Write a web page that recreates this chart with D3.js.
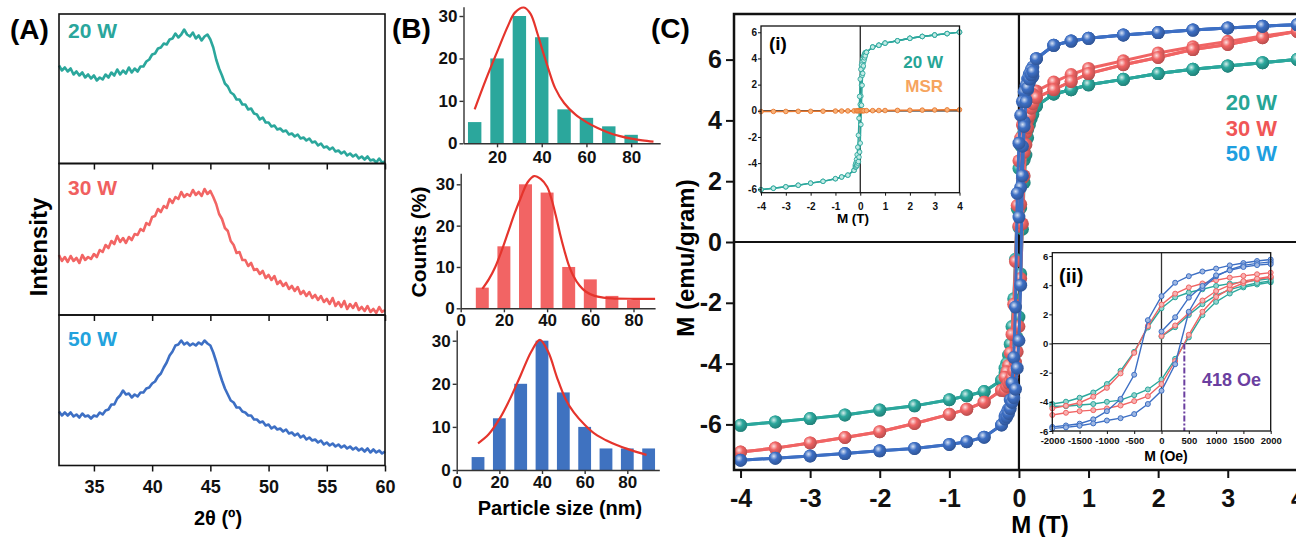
<!DOCTYPE html>
<html>
<head>
<meta charset="utf-8">
<script src="https://cdn.jsdelivr.net/npm/d3@7"></script>
<style>
  body { margin: 0; background: #fff; }
  text { font-family: "Liberation Sans", Arial, sans-serif; font-weight: bold; }
</style>
</head>
<body>
<div id="chart"></div>
<script>
// ---------- (A) XRD, scan from 32 deg in 0.25 deg steps ----------
const scanStart = 32, scanStep = 0.25;
const xrd20 = [98,93,96,92,95,89,92,88,91,86,89,85,88,83,86,84,89,86,91,88,
  94,89,93,90,96,91,95,92,97,97,102,104,109,110,115,116,120,119,124,125,
  130,126,129,134,129,127,131,125,128,123,127,129,124,116,104,95,88,80,77,71,
  69,64,64,59,59,54,55,50,49,44,46,41,41,37,38,34,35,32,33,29,
  30,27,29,25,26,23,25,21,22,18,20,16,17,14,16,12,13,10,12,8,
  10,7,9,5,7,4,7,3,4,1,5,1,2];
const xrd30 = [60,54,58,53,59,54,57,52,60,55,58,56,61,58,65,63,70,67,74,71,
  79,73,77,72,78,75,81,80,86,84,92,90,98,99,106,103,109,107,116,112,
  118,116,123,118,121,119,125,120,123,119,126,121,124,118,111,101,96,87,84,74,
  70,62,63,55,55,49,52,45,46,41,44,37,40,35,39,31,34,29,32,26,
  29,24,28,21,24,19,23,17,20,15,19,13,16,11,17,9,13,8,14,6,
  11,7,12,5,8,4,9,3,6,2,8,3,5];
const xrd50 = [54,50,53,50,53,49,51,48,52,49,50,47,50,49,53,51,55,56,61,61,
  67,70,75,71,72,68,71,69,73,73,77,78,82,84,89,92,98,103,110,114,
  120,121,125,121,123,120,122,120,123,121,125,122,120,113,104,94,85,77,71,65,
  63,58,58,54,53,50,50,46,46,43,44,40,41,37,39,36,37,34,36,32,
  33,30,32,28,30,26,28,25,26,23,25,21,23,20,22,19,21,18,20,17,
  19,16,18,15,17,14,17,13,16,13,15,12,14];
const xrdTicks = [35,40,45,50,55,60];

// ---------- (B) size histograms ----------
const sizeBins = [10,20,30,40,50,60,70,80];
const sizeBins50 = [10,20,30,40,50,60,70,80,90];
const counts20 = [5,20,30,25,8,6,4,2];
const counts30 = [5,15,30,28,10,7,3,2];
const counts50 = [3,12,20,30,18,10,5,5,5];
const fit20Size = [10,15,20,25,28,32,35,38,40,43,46,50,55,60,65,70,75,80,85,90];
const fit20Count = [8,15,21.5,27.8,30.8,32,30.5,26,22.5,17.5,13,9.5,6.8,5,3.6,2.5,1.7,1.1,0.7,0.4];
const fit30Size = [10,13,16,19,22,25,28,31,34,37,40,42,44,46,48,50,52,55,58,62,66,70,80,90];
const fit30Count = [4.7,7,10,14,18.5,23,27,30.5,32,31.3,29.4,26.5,22.5,18,14,10.5,8,5.5,4,3,2.6,2.4,2.3,2.3];
const fit50Size = [10,15,20,25,30,35,39,43,47,51,55,60,65,70,75,80,85,89];
const fit50Count = [6.2,8.3,11.8,16.5,22,27.5,30.2,27.3,21.5,16.5,13.3,10.5,8.3,6.9,5.8,4.9,4.1,3.5];

// ---------- (C) M-H loops ----------
const fieldNeg = [-4,-3.5,-3,-2.5,-2,-1.5,-1,-0.75,-0.5,-0.25];
const fieldPos = [0.25,0.5,0.75,1,1.5,2,2.5,3,3.5,4];
const m20Neg = [-6.03,-5.92,-5.81,-5.69,-5.53,-5.39,-5.19,-5.06,-4.92,-4.55];
const m20Pos = [4.47,4.87,5.01,5.17,5.35,5.54,5.68,5.79,5.9,6.01];
const m30Neg = [-6.91,-6.78,-6.61,-6.43,-6.24,-5.97,-5.67,-5.5,-5.27,-4.88];
const m30PosDesc = [4.97,5.26,5.51,5.71,5.96,6.22,6.42,6.6,6.78,6.93];
const m30PosAsc = [4.75,5.01,5.28,5.54,5.83,6.07,6.33,6.5,6.72,6.93];
const m50Neg = [-7.18,-7.11,-7.04,-6.96,-6.87,-6.79,-6.66,-6.57,-6.42,-6.02];
const m50Pos = [6.03,6.47,6.61,6.7,6.81,6.89,6.97,7.04,7.1,7.15];

// low-field part in Oe (inset ii)
const fieldOe = [-2000,-1750,-1500,-1250,-1000,-750,-500,-250,0,250,500,750,1000,1250,1500,1750,2000];
const fieldOeVirgin = [0,250,500,750,1000,1250,1500,1750,2000];
const loop20Desc = [-4.15,-3.99,-3.72,-3.36,-2.78,-1.87,-0.57,1.1,2.42,3.17,3.5,3.72,3.95,4.11,4.23,4.34,4.45];
const loop20Asc = [-4.3,-4.3,-4.22,-4.15,-4.0,-3.88,-3.54,-3.15,-2.47,-1.05,0.42,1.95,2.86,3.43,3.85,4.05,4.2];
const loop20Virgin = [0.48,1.12,1.96,2.7,3.3,3.7,3.95,4.15,4.3];
const loop30Desc = [-4.45,-4.27,-4.06,-3.65,-3.04,-2.05,-0.64,1.2,2.67,3.42,3.85,4.12,4.34,4.52,4.64,4.75,4.86];
const loop30Asc = [-4.9,-4.75,-4.64,-4.57,-4.45,-4.25,-3.95,-3.61,-2.78,-1.2,0.6,2.18,3.2,3.75,4.15,4.4,4.55];
const loop30Virgin = [0.52,1.24,2.1,2.95,3.6,4.0,4.28,4.45,4.6];
const loop50Desc = [-5.72,-5.62,-5.5,-5.2,-4.64,-3.8,-2.14,1.6,3.25,4.17,4.62,4.94,5.14,5.36,5.52,5.66,5.76];
const loop50Asc = [-5.82,-5.75,-5.64,-5.48,-5.28,-5.12,-4.84,-4.15,-3.24,-1.42,2.18,3.8,4.61,5.07,5.36,5.5,5.6];
const loop50Virgin = [0.82,1.8,3.15,3.95,4.68,5.02,5.25,5.38,5.45];
const coercivityOe = 418;

// MSR reference (inset i)
const fieldMsr = [-4,-3.5,-3,-2.5,-2,-1.5,-1,-0.75,-0.5,-0.25,-0.15,-0.1,-0.05,0,0.05,0.1,0.15,0.25,0.5,0.75,1,1.5,2,2.5,3,3.5,4];
const mMsr = [-0.06,-0.05,-0.05,-0.04,-0.04,-0.03,-0.02,-0.02,-0.01,-0.01,0,0,0,0,0,0,0,0.01,0.01,0.02,0.02,0.03,0.04,0.05,0.06,0.07,0.08];

const teal = "#2ba79c", red = "#f06464", blue = "#3d6fc4";
const plain = d => `${d}`; // hyphen minus like the original

const svg = d3.select("#chart").append("svg")
  .attr("width", 1296).attr("height", 537)
  .style("background", "#fff");

const panelLabel = (x, y, t) => svg.append("text").attr("x", x).attr("y", y)
  .attr("font-size", 28).text(t);
panelLabel(10, 39, "(A)");
panelLabel(392, 38, "(B)");
panelLabel(651, 38, "(C)");

// ---------- panel A ----------
const xA = d3.scaleLinear().domain([32, 60]).range([59, 385]);
const rowsA = [[14, 163.5], [163.5, 315], [315, 465.5]];
const xrdSeries = [
  { label: "20 W", values: xrd20, color: teal, labelColor: "#2aa69c", labelY: 38 },
  { label: "30 W", values: xrd30, color: "#f26564", labelColor: "#f0605f", labelY: 195 },
  { label: "50 W", values: xrd50, color: blue, labelColor: "#22a2dd", labelY: 346 }
];

xrdSeries.forEach((s, i) => {
  const [top, bot] = rowsA[i];
  const y = d3.scaleLinear().domain([0, 150]).range([bot, bot - 150]);
  const g = svg.append("g");

  g.append("path")
    .datum(s.values)
    .attr("fill", "none")
    .attr("stroke", s.color)
    .attr("stroke-width", 2.6)
    .attr("stroke-linejoin", "round")
    .attr("d", d3.line().x((d, j) => xA(scanStart + j * scanStep)).y(d => y(d)));

  g.append("rect")
    .attr("x", 59).attr("y", top).attr("width", 326).attr("height", bot - top)
    .attr("fill", "none").attr("stroke", "#111").attr("stroke-width", 1.6);

  const ax = g.append("g")
    .attr("transform", `translate(0,${bot})`)
    .call(d3.axisBottom(xA).tickValues(xrdTicks).tickSize(6).tickSizeOuter(0).tickPadding(9)
      .tickFormat(i === 2 ? plain : () => ""));
  ax.select(".domain").remove();
  ax.selectAll("line").attr("stroke", "#111").attr("stroke-width", 1.5);
  ax.selectAll("text").attr("font-size", 18).attr("fill", "#111")
    .style("font-family", "Liberation Sans, Arial, sans-serif").style("font-weight", "bold");

  g.append("text").attr("x", 68).attr("y", s.labelY)
    .attr("font-size", 21).attr("fill", s.labelColor).text(s.label);
});

svg.append("text").attr("x", 218).attr("y", 525).attr("text-anchor", "middle")
  .attr("font-size", 20).text("2θ (º)");
svg.append("text").attr("transform", "translate(47,247) rotate(-90)")
  .attr("text-anchor", "middle").attr("font-size", 24).text("Intensity");

// ---------- panel B ----------
const histPanels = [
  { bins: sizeBins, counts: counts20, fitX: fit20Size, fitY: fit20Count, color: teal,
    xDomain: [5, 93], xRange: [463.5, 660.2], y0: 143.3, yTop: 32.2, perUnit: 4.243,
    xTicks: [20, 40, 60, 80], pad: 3.3 },
  { bins: sizeBins, counts: counts30, fitX: fit30Size, fitY: fit30Count, color: "#f26464",
    xDomain: [0, 90], xRange: [460.7, 655.1], y0: 308.3, yTop: 32.7, perUnit: 4.133,
    xTicks: [0, 20, 40, 60, 80], pad: 1.5 },
  { bins: sizeBins50, counts: counts50, fitX: fit50Size, fitY: fit50Count, color: "#3f72c0",
    xDomain: [0, 95], xRange: [456.7, 659.3], y0: 470, yTop: 32.5, perUnit: 4.31,
    xTicks: [0, 20, 40, 60, 80], pad: 1.6 }
];
const barHalf = 3;

histPanels.forEach(p => {
  const x = d3.scaleLinear().domain(p.xDomain).range(p.xRange);
  const y = d3.scaleLinear().domain([0, p.yTop]).range([p.y0, p.y0 - p.yTop * p.perUnit]);
  const g = svg.append("g");

  g.selectAll("rect")
    .data(p.bins)
    .enter()
    .append("rect")
    .attr("x", d => x(d - barHalf))
    .attr("width", d => x(d + barHalf) - x(d - barHalf))
    .attr("y", (d, i) => y(p.counts[i]))
    .attr("height", (d, i) => y(0) - y(p.counts[i]))
    .attr("fill", p.color);

  g.append("path")
    .datum(p.fitX.map((v, i) => [v, p.fitY[i]]))
    .attr("fill", "none")
    .attr("stroke", "#e5342c")
    .attr("stroke-width", 2.2)
    .attr("d", d3.line().curve(d3.curveCatmullRom).x(d => x(d[0])).y(d => y(d[1])));

  const styleAxis = a => {
    a.selectAll("path, line").attr("stroke", "#333").attr("stroke-width", 1.4);
    a.selectAll("text").attr("font-size", 17).attr("fill", "#111")
      .style("font-family", "Liberation Sans, Arial, sans-serif").style("font-weight", "bold");
  };
  g.append("g").attr("transform", `translate(0,${p.y0})`)
    .call(d3.axisBottom(x).tickValues(p.xTicks).tickSize(4).tickSizeOuter(0).tickPadding(p.pad))
    .call(styleAxis);
  g.append("g").attr("transform", `translate(${p.xRange[0]},0)`)
    .call(d3.axisLeft(y).tickValues([0, 10, 20, 30]).tickSize(4).tickSizeOuter(0).tickPadding(2))
    .call(styleAxis);
});

svg.append("text").attr("x", 560).attr("y", 515).attr("text-anchor", "middle")
  .attr("font-size", 20).text("Particle size (nm)");
svg.append("text").attr("transform", "translate(426,242) rotate(-90)")
  .attr("text-anchor", "middle").attr("font-size", 21).text("Counts (%)");

// ---------- panel C ----------
const samples = [
  { name: "20 W", color: teal, legend: "#27a596", neg: m20Neg, posDesc: m20Pos, posAsc: m20Pos,
    desc: loop20Desc, asc: loop20Asc, virgin: loop20Virgin },
  { name: "30 W", color: red, legend: "#f05656", neg: m30Neg, posDesc: m30PosDesc, posAsc: m30PosAsc,
    desc: loop30Desc, asc: loop30Asc, virgin: loop30Virgin },
  { name: "50 W", color: blue, legend: "#1e9fe0", neg: m50Neg, posDesc: m50Pos, posAsc: m50Pos,
    desc: loop50Desc, asc: loop50Asc, virgin: loop50Virgin }
];

const pair = (xs, ys, k = 1) => xs.map((v, i) => [v * k, ys[i]]);
function branches(s) {
  const virgin = pair(fieldOeVirgin, s.virgin, 1e-4).concat(pair(fieldPos, s.posAsc));
  const desc = pair(fieldPos, s.posDesc).reverse()
    .concat(pair(fieldOe, s.desc, 1e-4).reverse(), pair(fieldNeg, s.neg).reverse());
  const asc = pair(fieldNeg, s.neg).concat(pair(fieldOe, s.asc, 1e-4), pair(fieldPos, s.posAsc));
  return [virgin, desc, asc];
}

const defs = svg.append("defs");
samples.forEach((s, i) => {
  const gr = defs.append("radialGradient").attr("id", "ball" + i)
    .attr("cx", "38%").attr("cy", "35%").attr("r", "65%");
  gr.append("stop").attr("offset", "0%").attr("stop-color", d3.interpolateRgb(s.color, "#fff")(0.8));
  gr.append("stop").attr("offset", "45%").attr("stop-color", s.color);
  gr.append("stop").attr("offset", "100%").attr("stop-color", d3.color(s.color).darker(0.7));
});

const xC = d3.scaleLinear().domain([-4.094, 4.1]).range([734, 1304.3]);
const yC = d3.scaleLinear().domain([-7.5, 7.5]).range([470, 14]);
const gC = svg.append("g");

gC.append("line").attr("x1", 734).attr("x2", 1304).attr("y1", yC(0)).attr("y2", yC(0))
  .attr("stroke", "#111").attr("stroke-width", 2.2);
gC.append("line").attr("x1", xC(0)).attr("x2", xC(0)).attr("y1", 14).attr("y2", 470)
  .attr("stroke", "#111").attr("stroke-width", 2.2);

samples.forEach((s, i) => {
  const br = branches(s);
  const line = d3.line().x(d => xC(d[0])).y(d => yC(d[1]));
  gC.selectAll(null).data(br).enter().append("path")
    .attr("fill", "none").attr("stroke", s.color).attr("stroke-width", 3)
    .attr("d", line);
  gC.selectAll(null).data(br.flat()).enter().append("circle")
    .attr("cx", d => xC(d[0])).attr("cy", d => yC(d[1])).attr("r", 6.5)
    .attr("fill", `url(#ball${i})`);
});

gC.append("rect").attr("x", 734).attr("y", 14).attr("width", 570).attr("height", 456)
  .attr("fill", "none").attr("stroke", "#111").attr("stroke-width", 2.5);

const styleC = (a, size) => {
  a.select(".domain").remove();
  a.selectAll("line").attr("stroke", "#111").attr("stroke-width", 2);
  a.selectAll("text").attr("font-size", size).attr("fill", "#111")
    .style("font-family", "Liberation Sans, Arial, sans-serif").style("font-weight", "bold");
};
gC.append("g").attr("transform", "translate(0,470)")
  .call(d3.axisBottom(xC).tickValues([-4, -3, -2, -1, 0, 1, 2, 3, 4]).tickSize(8).tickPadding(11)
    .tickFormat(plain))
  .call(a => styleC(a, 25));
gC.append("g").attr("transform", "translate(734,0)")
  .call(d3.axisLeft(yC).tickValues([-6, -4, -2, 0, 2, 4, 6]).tickSize(8).tickPadding(4)
    .tickFormat(plain))
  .call(a => styleC(a, 25));

svg.append("text").attr("x", 1040).attr("y", 533).attr("text-anchor", "middle")
  .attr("font-size", 24).text("M (T)");
svg.append("text").attr("transform", "translate(694,258) rotate(-90)")
  .attr("text-anchor", "middle").attr("font-size", 24).text("M (emu/gram)");

samples.forEach((s, i) => {
  svg.append("text").attr("x", 1277).attr("y", 110 + i * 25.5).attr("text-anchor", "end")
    .attr("font-size", 22).attr("fill", s.legend).text(s.name);
});

// small-axis helper for the insets
function insetAxes(g, x, y, xTicks, yTicks, fs, padX) {
  const st = a => {
    a.select(".domain").remove();
    a.selectAll("line").attr("stroke", "#111").attr("stroke-width", 1);
    a.selectAll("text").attr("font-size", fs).attr("fill", "#111")
      .style("font-family", "Liberation Sans, Arial, sans-serif").style("font-weight", "bold");
  };
  g.append("g").attr("transform", `translate(0,${y.range()[0]})`)
    .call(d3.axisBottom(x).tickValues(xTicks).tickSize(3).tickPadding(padX).tickFormat(plain))
    .call(st);
  g.append("g").attr("transform", `translate(${x.range()[0]},0)`)
    .call(d3.axisLeft(y).tickValues(yTicks).tickSize(3).tickPadding(1).tickFormat(plain))
    .call(st);
  g.append("rect").attr("x", x.range()[0]).attr("y", y.range()[1])
    .attr("width", x.range()[1] - x.range()[0]).attr("height", y.range()[0] - y.range()[1])
    .attr("fill", "none").attr("stroke", "#111").attr("stroke-width", 1.3);
}

// inset (i)
const xI = d3.scaleLinear().domain([-4, 4]).range([761, 959.5]);
const yI = d3.scaleLinear().domain([-6.26, 6.48]).range([192.7, 26]);
const gI = svg.append("g");
gI.append("line").attr("x1", xI(0)).attr("x2", xI(0)).attr("y1", 26).attr("y2", 192.7)
  .attr("stroke", "#111").attr("stroke-width", 1.2);
gI.append("line").attr("x1", 761).attr("x2", 959.5).attr("y1", yI(0)).attr("y2", yI(0))
  .attr("stroke", "#111").attr("stroke-width", 1.2);

const lineI = d3.line().x(d => xI(d[0])).y(d => yI(d[1]));
const br20 = branches(samples[0]);
gI.selectAll(null).data(br20).enter().append("path")
  .attr("fill", "none").attr("stroke", teal).attr("stroke-width", 1.4).attr("d", lineI);
gI.selectAll(null).data(br20.flat()).enter().append("circle")
  .attr("cx", d => xI(d[0])).attr("cy", d => yI(d[1])).attr("r", 2.3)
  .attr("fill", "#c4ebe6").attr("stroke", teal).attr("stroke-width", 0.9);

const msrPts = pair(fieldMsr, mMsr);
gI.append("path").datum(msrPts).attr("fill", "none").attr("stroke", "#e8772e")
  .attr("stroke-width", 1.6).attr("d", lineI);
gI.selectAll(null).data(msrPts).enter().append("circle")
  .attr("cx", d => xI(d[0])).attr("cy", d => yI(d[1])).attr("r", 2.3)
  .attr("fill", "#f7b27a").attr("stroke", "#e8772e").attr("stroke-width", 0.9);

insetAxes(gI, xI, yI, [-4, -3, -2, -1, 0, 1, 2, 3, 4], [-6, -4, -2, 0, 2, 4, 6], 10, 7);
gI.append("text").attr("x", 769).attr("y", 50).attr("font-size", 19).text("(i)");
gI.append("text").attr("x", 943).attr("y", 68).attr("text-anchor", "end")
  .attr("font-size", 17).attr("fill", "#26a596").text("20 W");
gI.append("text").attr("x", 943).attr("y", 92).attr("text-anchor", "end")
  .attr("font-size", 17).attr("fill", "#f6a45e").text("MSR");
gI.append("text").attr("x", 853).attr("y", 223).attr("text-anchor", "middle")
  .attr("font-size", 13.5).text("M (T)");

// inset (ii)
const xII = d3.scaleLinear().domain([-2000, 2000]).range([1052.3, 1270.7]);
const yII = d3.scaleLinear().domain([-6, 6.23]).range([431, 252.7]);
const gII = svg.append("g");
gII.append("line").attr("x1", xII(0)).attr("x2", xII(0)).attr("y1", 252.7).attr("y2", 431)
  .attr("stroke", "#333").attr("stroke-width", 1.3);
gII.append("line").attr("x1", 1052.3).attr("x2", 1270.7).attr("y1", yII(0)).attr("y2", yII(0))
  .attr("stroke", "#333").attr("stroke-width", 1.3);

const lineII = d3.line().x(d => xII(d[0])).y(d => yII(d[1]));
samples.forEach(s => {
  const loops = [pair(fieldOe, s.desc), pair(fieldOe, s.asc), pair(fieldOeVirgin, s.virgin)];
  gII.selectAll(null).data(loops).enter().append("path")
    .attr("fill", "none").attr("stroke", s.color).attr("stroke-width", 1.4).attr("d", lineII);
  gII.selectAll(null).data(loops.flat()).enter().append("circle")
    .attr("cx", d => xII(d[0])).attr("cy", d => yII(d[1])).attr("r", 2.5)
    .attr("fill", d3.interpolateRgb(s.color, "#fff")(0.5)).attr("stroke", s.color).attr("stroke-width", 1);
});

gII.append("line").attr("x1", xII(coercivityOe)).attr("x2", xII(coercivityOe))
  .attr("y1", yII(0)).attr("y2", 431)
  .attr("stroke", "#6b3fa0").attr("stroke-width", 2).attr("stroke-dasharray", "6,2,2,2");

insetAxes(gII, xII, yII, [-2000, -1500, -1000, -500, 0, 500, 1000, 1500, 2000], [-6, -4, -2, 0, 2, 4, 6], 9.5, 3.5);
gII.append("text").attr("x", 1059).attr("y", 283).attr("font-size", 20).text("(ii)");
gII.append("text").attr("x", 1202).attr("y", 386).attr("font-size", 18)
  .attr("fill", "#6b3fa0").text("418 Oe");
gII.append("text").attr("x", 1166).attr("y", 461).attr("text-anchor", "middle")
  .attr("font-size", 14).text("M (Oe)");
</script>
</body>
</html>
